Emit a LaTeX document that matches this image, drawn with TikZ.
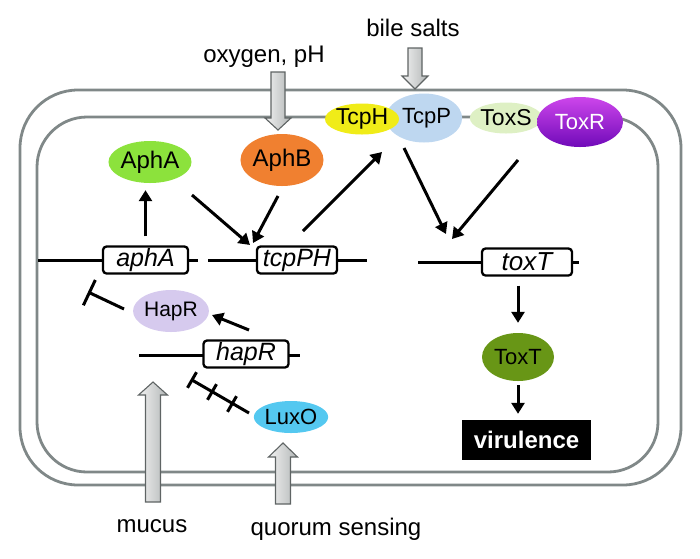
\documentclass[tikz,border=0pt]{standalone}
\usepackage{fontspec}
\setmainfont{Liberation Sans}
\usetikzlibrary{shapes.geometric,arrows.meta,calc}
\definecolor{memc}{RGB}{128,136,136}
\definecolor{blkline}{RGB}{95,100,100}
\definecolor{blkL}{RGB}{242,242,242}
\definecolor{blkR}{RGB}{178,182,182}
\definecolor{cTcpH}{RGB}{240,236,24}
\definecolor{cTcpP}{RGB}{190,215,240}
\definecolor{cToxS}{RGB}{222,240,196}
\definecolor{cToxRtop}{RGB}{205,70,235}
\definecolor{cToxRbot}{RGB}{112,10,185}
\definecolor{cAphA}{RGB}{140,226,60}
\definecolor{cAphB}{RGB}{240,128,48}
\definecolor{cHapR}{RGB}{214,202,238}
\definecolor{cLuxO}{RGB}{84,200,240}
\definecolor{cToxT}{RGB}{104,150,22}
\newcommand{\fs}[1]{\fontsize{#1}{#1}\selectfont}
% block arrows: x, tail y, tip y, shaft half width, head half width, head length
\newcommand{\bkup}[6]{\draw[blk] (#1-#4,#2) -- (#1-#4,#3+#6) -- (#1-#5,#3+#6) -- (#1,#3) -- (#1+#5,#3+#6) -- (#1+#4,#3+#6) -- (#1+#4,#2) -- cycle;}
\newcommand{\bkdown}[6]{\draw[blk] (#1-#4,#2) -- (#1-#4,#3-#6) -- (#1-#5,#3-#6) -- (#1,#3) -- (#1+#5,#3-#6) -- (#1+#4,#3-#6) -- (#1+#4,#2) -- cycle;}
\begin{document}
\begin{tikzpicture}[x=1pt,y=-1pt,
  prot/.style={ellipse,inner sep=0pt},
  gene/.style={draw=black,line width=2.3pt,fill=white,rounded corners=3.5pt,inner sep=0pt,minimum height=27pt},
  dna/.style={line width=3pt},
  arr/.style={line width=3pt,-{Triangle[length=11pt,width=13pt]}},
  inh/.style={line width=3pt},
  mem/.style={draw=memc,line width=2.8pt},
  blk/.style={draw=blkline,line width=1.1pt,left color=blkL,right color=blkR,line join=miter},
  lbl/.style={anchor=base,inner sep=0pt,font=\fs{24}}]
\useasboundingbox (0,0) rectangle (700,558);

% membranes
\draw[mem,rounded corners=58pt] (20,90) rectangle (681,485);
\draw[mem,rounded corners=50pt] (37,117) rectangle (658,472);

% external labels
\node[lbl] (bile) at (413,36) {bile salts};
\node[lbl] (oxy) at (264,62) {oxygen, pH};
\node[lbl] (mucus) at (152,532) {mucus};
\node[lbl] (quorum) at (336,535) {quorum sensing};

% block arrows
\bkdown{415}{48}{89}{7}{13}{13}
\bkdown{278}{72}{130}{7}{13}{12}
\bkup{153}{502}{382}{7.5}{14.5}{13}
\bkup{283}{504}{443}{7.5}{14.5}{14}

% gene lines
\coordinate (aphAL) at (38,260);
\coordinate (aphAR) at (198,260);
\coordinate (tcpL) at (208,260);
\coordinate (tcpR) at (367,260);
\coordinate (toxTL) at (418,262);
\coordinate (toxTR) at (579,262);
\coordinate (hapRL) at (139,355);
\coordinate (hapRR) at (300,355);
\draw[dna] (aphAL) -- (aphAR);
\draw[dna] (tcpL) -- (tcpR);
\draw[dna] (toxTL) -- (toxTR);
\draw[dna] (hapRL) -- (hapRR);

% gene boxes
\node[gene,minimum width=85pt,font=\fs{25}\itshape] (aphA) at (145.5,260) {aphA};
\node[gene,minimum width=80pt,font=\fs{25}\itshape] (tcpPH) at (297,260) {tcpPH};
\node[gene,minimum width=90pt,font=\fs{26}\itshape] (toxT) at (527,262) {toxT};
\node[gene,minimum width=85pt,font=\fs{25}\itshape] (hapR) at (246,354) {hapR};

% membrane proteins
\node[prot,fill=cTcpP,minimum width=70pt,minimum height=49pt,font=\fs{22}] (TcpP) at (424,118) {\hspace*{5pt}TcpP};
\node[prot,fill=cTcpH,minimum width=72pt,minimum height=31pt,font=\fs{23}] (TcpH) at (362,119) {TcpH};
\node[prot,fill=cToxS,minimum width=58pt,minimum height=31pt,font=\fs{23}] (ToxS) at (506,118) {ToxS};
\node[prot,top color=cToxRtop,bottom color=cToxRbot,minimum width=86pt,minimum height=50pt,font=\fs{22},text=white] (ToxR) at (580,122) {ToxR};

% cytoplasmic proteins
\node[prot,fill=cAphA,minimum width=76pt,minimum height=42pt,font=\fs{24}] (AphA) at (150,162) {AphA};
\node[prot,fill=cAphB,minimum width=66pt,minimum height=52pt,font=\fs{24}] (AphB) at (282,160) {AphB};
\node[prot,fill=cHapR,minimum width=65pt,minimum height=42pt,font=\fs{21}] (HapR) at (171,311) {HapR};
\node[prot,fill=cLuxO,minimum width=70pt,minimum height=32pt,font=\fs{22}] (LuxO) at (291,417) {LuxO};
\node[prot,fill=cToxT,minimum width=72pt,minimum height=48pt,font=\fs{22}] (ToxT) at (518,357) {ToxT};
\node[fill=black,text=white,font=\fs{24}\bfseries,minimum width=129pt,minimum height=40pt,inner sep=0pt] (vir) at (526.5,440) {virulence};

% activating arrows
\draw[arr,shorten <=9pt,shorten >=7pt] (aphA.north) -- (aphA.north |- AphA.south);
\coordinate (a2s) at (192,195); \coordinate (a2e) at (250,245);
\draw[arr] (a2s) -- (a2e);
\coordinate (a3s) at (278,196); \coordinate (a3e) at (253,243);
\draw[arr] (a3s) -- (a3e);
\coordinate (a4s) at (303,231); \coordinate (a4e) at (382,152);
\draw[arr] (a4s) -- (a4e);
\coordinate (a5s) at (404,148); \coordinate (a5e) at (446,234);
\draw[arr] (a5s) -- (a5e);
\coordinate (a6s) at (518,160); \coordinate (a6e) at (452,239);
\draw[arr] (a6s) -- (a6e);
\draw[arr,shorten <=9pt,shorten >=10pt] (ToxT.north |- toxT.south) -- (ToxT.north);
\draw[arr,shorten <=4pt,shorten >=6pt] (ToxT.south) -- (ToxT.south |- vir.north);
\coordinate (a9s) at (249,330); \coordinate (a9e) at (212,315);
\draw[arr] (a9s) -- (a9e);

% inhibition HapR -| aphA
\coordinate (i1s) at (124,309); \coordinate (i1e) at (88,292);
\draw[inh,-{Bar[width=28pt]}] (i1s) -- (i1e);

% inhibition LuxO -| hapR (three bars)
\coordinate (i2s) at (249,413); \coordinate (i2e) at (192,380);
\draw[inh] (i2s) -- (i2e);
\draw[inh] (187.5,387.8) -- (196.5,372.2);
\draw[inh] (207.5,399.8) -- (216.5,384.2);
\draw[inh] (227.5,411.8) -- (236.5,396.2);
\end{tikzpicture}
\end{document}
